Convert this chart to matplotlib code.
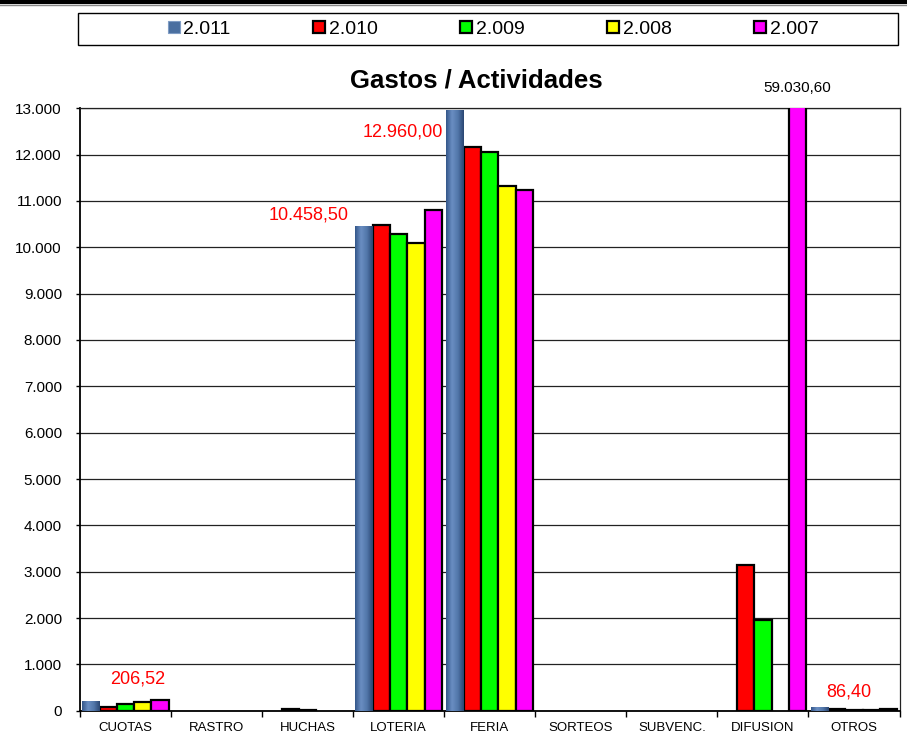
import numpy as np
import matplotlib
matplotlib.use("Agg")
import matplotlib.pyplot as plt
from matplotlib.colors import LinearSegmentedColormap
from matplotlib.lines import Line2D
from matplotlib.patches import Rectangle

plt.rcParams['font.family'] = ['Liberation Sans', 'DejaVu Sans']

categories = ['CUOTAS', 'RASTRO', 'HUCHAS', 'LOTERIA', 'FERIA', 'SORTEOS', 'SUBVENC.', 'DIFUSION', 'OTROS']
series_names = ['2.011', '2.010', '2.009', '2.008', '2.007']
y2011 = [206.52, 0, 0, 10458.50, 12960.00, 0, 0, 0, 86.40]
y2010 = [80, 0, 35, 10473, 12157, 0, 0, 3144, 30]
y2009 = [150, 0, 25, 10288, 12049, 0, 0, 1950, 20]
y2008 = [180, 0, 0, 10095, 11329, 0, 0, 0, 15]
y2007 = [237, 0, 0, 10811, 11237, 0, 0, 59030.60, 35]
yticks = [0, 1000, 2000, 3000, 4000, 5000, 6000, 7000, 8000, 9000, 10000, 11000, 12000, 13000]
ytick_labels = ['0', '1.000', '2.000', '3.000', '4.000', '5.000', '6.000', '7.000',
                '8.000', '9.000', '10.000', '11.000', '12.000', '13.000']

colors = ['#4a6fa0', '#ff0000', '#00ff00', '#ffff00', '#ff00ff']
series = [y2011, y2010, y2009, y2008, y2007]

fig = plt.figure(figsize=(9.07, 7.53), dpi=100)
ax = fig.add_axes([80 / 907, 1 - 710.7 / 753, 819.5 / 907, (710.7 - 108.3) / 753])

x = np.arange(len(categories))
w = 0.19
cmap = LinearSegmentedColormap.from_list('cyl', ['#34578a', '#6a8ec2', '#5277aa', '#2a4672'])
grad = np.linspace(0, 1, 64).reshape(1, -1)

for i, (vals, col) in enumerate(zip(series, colors)):
    pos = x + (i - 2) * w
    if i == 0:
        bars = ax.bar(pos, vals, w, color=col, edgecolor='none', zorder=3)
        for b in bars:
            if b.get_height() > 0:
                im = ax.imshow(grad, extent=[b.get_x(), b.get_x() + b.get_width(), 0, b.get_height()],
                               aspect='auto', cmap=cmap, zorder=3.5, interpolation='bilinear')
                im.set_clip_path(b)
    else:
        bars = ax.bar(pos, vals, w, color=col, edgecolor='black', linewidth=1.6, zorder=3)
        for b in bars:
            if b.get_height() == 0:
                b.set_linewidth(0)

ax.set_xlim(-0.5, len(categories) - 0.5)
ax.set_ylim(0, 13000)
ax.set_yticks(yticks)
ax.set_yticklabels(ytick_labels, fontsize=11)
ax.yaxis.grid(True, color='#222222', linewidth=0.9, zorder=0)
ax.set_axisbelow(True)

ax.set_xticks(np.arange(len(categories) + 1) - 0.5)
ax.set_xticklabels([])
ax.set_xticks(x, minor=True)
ax.set_xticklabels(categories, minor=True, fontsize=9.5)
ax.tick_params(axis='x', which='minor', length=0, pad=8)
ax.tick_params(axis='x', which='major', length=4, direction='out', width=1)
ax.tick_params(axis='y', length=3, direction='out', width=1, pad=10)

for s in ['left', 'bottom']:
    ax.spines[s].set_linewidth(1.3)
    ax.spines[s].set_color('black')
for s in ['top', 'right']:
    ax.spines[s].set_linewidth(0.9)
    ax.spines[s].set_color('#222222')

# data labels
ax.annotate('206,52', xy=(x[0] - 2 * w, y2011[0]), xytext=(33.5, 16), textcoords='offset points',
            ha='center', va='center', color='red', fontsize=13)
ax.annotate('10.458,50', xy=(x[3] - 2 * w, y2011[3]), xytext=(-11, 8), textcoords='offset points',
            ha='right', va='center', color='red', fontsize=13)
ax.annotate('12.960,00', xy=(x[4] - 2 * w, y2011[4]), xytext=(-9, -15.6), textcoords='offset points',
            ha='right', va='center', color='red', fontsize=13)
ax.annotate('86,40', xy=(x[8] - 2 * w, y2011[8]), xytext=(21, 10.6), textcoords='offset points',
            ha='center', va='center', color='red', fontsize=13)
ax.annotate('59.030,60', xy=(x[7] + 2 * w, 13000), xytext=(0, 14.4), textcoords='offset points',
            ha='center', va='center', color='black', fontsize=11, annotation_clip=False)

fig.text(476 / 907, 1 - 80 / 753, 'Gastos / Actividades', ha='center', va='center',
         fontsize=18.5, fontweight='bold')

# legend
handles = []
for i, (n, c) in enumerate(zip(series_names, colors)):
    ec = '#7f9cc4' if i == 0 else 'black'
    mew = 0.8 if i == 0 else 1.6
    handles.append(Line2D([], [], linestyle='none', marker='s', markersize=8,
                          markerfacecolor=c, markeredgecolor=ec, markeredgewidth=mew, label=n))
fig.legend(handles=handles, loc='center', bbox_to_anchor=(493 / 907, 1 - 29 / 753), ncol=5,
           frameon=False, fontsize=14, handlelength=0.7, handletextpad=0.15, columnspacing=4.2,
           borderpad=0)
fig.patches.append(Rectangle((77.7 / 907, 1 - 45 / 753), (897.7 - 77.7) / 907, 31.7 / 753,
                             transform=fig.transFigure, fill=False, edgecolor='black', linewidth=1))

fig.add_artist(Line2D([0, 1], [1 - 1.5 / 753, 1 - 1.5 / 753], transform=fig.transFigure,
                      color='black', linewidth=3))
fig.add_artist(Line2D([0, 1], [1 - 5 / 753, 1 - 5 / 753], transform=fig.transFigure,
                      color='#888888', linewidth=1))

fig.savefig('out.png', dpi=100)
